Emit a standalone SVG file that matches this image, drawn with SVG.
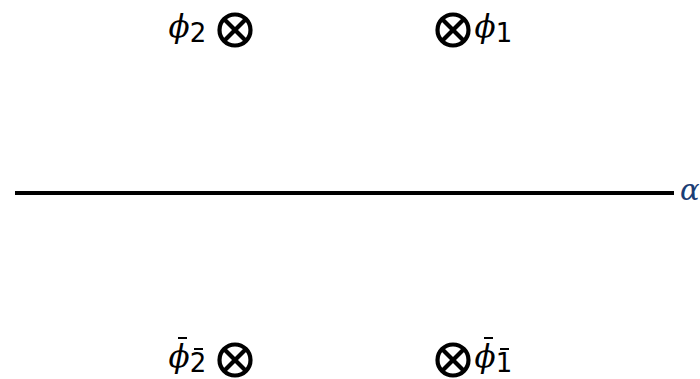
<svg xmlns="http://www.w3.org/2000/svg" width="700" height="379" viewBox="0 0 700 379">
<style>
.sym{fill:none;stroke:#000;stroke-width:4.2}
.lab{font-family:"DejaVu Serif","Liberation Serif",serif;font-style:italic;font-size:31px;fill:#000;text-anchor:middle}
.sub{font-family:"DejaVu Sans","Liberation Sans",sans-serif;font-size:26px;fill:#000;text-anchor:middle}
.bar{stroke:#000;stroke-width:2}
</style>
<defs>
<g id="otimes">
<circle class="sym" cx="0" cy="0" r="15.5"/>
<line class="sym" x1="-11" y1="-11" x2="11" y2="11"/>
<line class="sym" x1="-11" y1="11" x2="11" y2="-11"/>
</g>
</defs>
<g id="connectors">
<line x1="15" y1="193" x2="674" y2="193" stroke="#000" stroke-width="4"/>
</g>
<g id="axis-label">
<text x="680" y="200" font-family="DejaVu Serif, serif" font-style="italic" font-size="29" fill="#1b3d75">α</text>
</g>
<g id="phi2">
<use href="#otimes" x="235" y="30"/>
<text class="lab" x="179" y="37">ϕ</text>
<text class="sub" x="198" y="42">2</text>
</g>
<g id="phi1">
<use href="#otimes" x="453" y="30"/>
<text class="lab" x="485" y="37">ϕ</text>
<text class="sub" x="504" y="42">1</text>
</g>
<g id="phibar2">
<use href="#otimes" x="235" y="360"/>
<text class="lab" x="179" y="367">ϕ</text>
<line class="bar" x1="178" y1="338" x2="187" y2="338"/>
<text class="sub" x="198" y="372">2</text>
<line class="bar" x1="194" y1="349" x2="203" y2="349"/>
</g>
<g id="phibar1">
<use href="#otimes" x="453" y="360"/>
<text class="lab" x="485" y="367">ϕ</text>
<line class="bar" x1="484" y1="338" x2="493" y2="338"/>
<text class="sub" x="504" y="372">1</text>
<line class="bar" x1="500" y1="349" x2="509" y2="349"/>
</g>
</svg>
